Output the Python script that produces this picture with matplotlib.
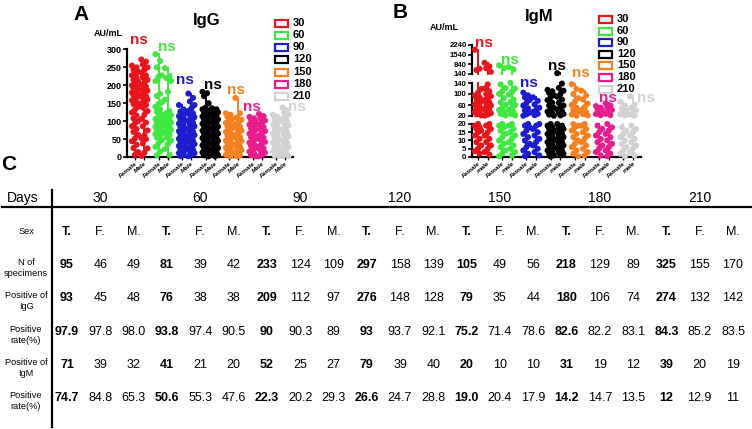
import matplotlib.pyplot as plt
import numpy as np
from matplotlib.lines import Line2D
from matplotlib.patches import Rectangle

plt.rcParams['font.family'] = ['Liberation Sans', 'DejaVu Sans']

W, H = 752, 429

# ---- data ----
days = [30, 60, 90, 120, 150, 180, 210]
colors = ['#e8161c', '#3ee83e', '#1c1cd0', '#000000', '#f5801f', '#e81c8c', '#d2d2d2']

# IgG (AU/mL), values
igg_female = [
    [255, 250, 244, 238, 234, 228, 222, 216, 212, 206, 200, 196, 192, 188, 184, 180, 176, 172, 168,
     163, 158, 153, 148, 140, 132, 124, 116, 108, 100, 94, 86, 78, 70, 62, 52, 44, 34, 25, 14, 6],
    [287, 268, 250, 228, 224, 212, 176, 170, 152, 148, 140, 133, 126, 118, 112, 106, 101, 96, 92, 88,
     84, 80, 76, 72, 68, 64, 60, 54, 47, 38, 28, 15, 5],
    [145, 133, 127, 122, 118, 114, 110, 105, 101, 97, 93, 88, 84, 80, 76, 72, 67, 63, 59, 55, 51, 47,
     43, 39, 35, 31, 27, 23, 19, 15, 11, 7, 3],
    [182, 178, 170, 150, 138, 133, 129, 125, 121, 117, 113, 109, 105, 101, 97, 93, 89, 85, 81, 77, 73,
     69, 65, 61, 57, 53, 49, 45, 41, 37, 33, 29, 25, 21, 17, 13, 9, 5, 2],
    [122, 118, 112, 106, 100, 95, 90, 85, 80, 75, 70, 65, 60, 55, 50, 46, 42, 38, 34, 30, 26, 22, 18,
     14, 10, 6, 2],
    [112, 108, 104, 100, 95, 90, 85, 80, 75, 70, 65, 60, 55, 50, 45, 40, 35, 30, 25, 20, 15, 10, 5, 2],
    [118, 112, 106, 100, 95, 90, 85, 80, 75, 70, 65, 60, 55, 50, 45, 40, 35, 30, 25, 20, 15, 10, 5, 2],
]
igg_male = [
    [272, 266, 258, 250, 244, 236, 228, 222, 215, 208, 202, 196, 190, 185, 180, 175, 170, 165, 160,
     155, 150, 145, 138, 128, 118, 106, 96, 86, 74, 60, 53, 50, 38, 24, 12, 3],
    [248, 226, 220, 212, 182, 160, 128, 122, 117, 112, 108, 104, 100, 96, 92, 88, 84, 80, 76, 72, 67,
     62, 55, 46, 36, 22, 6],
    [177, 165, 155, 145, 136, 128, 122, 116, 111, 106, 101, 96, 91, 86, 81, 76, 71, 66, 61, 56, 51, 46,
     41, 36, 31, 26, 21, 16, 11, 6, 2],
    [136, 133, 129, 125, 121, 117, 113, 109, 105, 101, 97, 93, 89, 85, 81, 77, 73, 69, 65, 61, 57, 53,
     49, 45, 41, 37, 33, 29, 25, 21, 17, 13, 9, 5, 2],
    [165, 122, 110, 104, 98, 92, 86, 80, 74, 68, 62, 56, 50, 45, 40, 35, 30, 25, 20, 15, 10, 5, 2],
    [120, 114, 108, 102, 96, 90, 84, 78, 72, 66, 60, 54, 48, 42, 36, 30, 24, 18, 12, 6, 2],
    [138, 130, 124, 118, 112, 106, 100, 94, 88, 82, 76, 70, 64, 58, 52, 46, 40, 34, 28, 22, 16, 10, 5, 2],
]

# IgM (AU/mL)
igm_female = [
    [1900, 520, 430, 118, 105, 95, 88, 80, 74, 68, 62, 56, 50, 45, 40, 35, 30, 26, 22, 20, 19, 18, 17,
     16, 15, 13, 11, 9, 7, 5, 3.5, 2],
    [760, 560, 135, 122, 110, 100, 85, 70, 60, 50, 42, 35, 28, 22, 20, 19, 18, 16, 14, 12, 10, 8, 6, 4,
     2, 0.5],
    [105, 95, 88, 78, 68, 58, 48, 40, 32, 26, 21, 20, 19, 18, 16, 14, 12, 10, 8, 6, 4, 2, 0.5],
    [115, 110, 104, 96, 88, 78, 68, 58, 50, 42, 36, 30, 25, 21, 20, 19, 18, 17, 16, 15, 14, 13, 12, 11,
     10, 9, 8, 7, 6, 5, 4, 3, 2, 1, 0.3],
    [136, 118, 100, 85, 72, 60, 50, 42, 36, 30, 25, 21, 20, 19, 18, 16, 14, 12, 10, 8, 6, 4, 2, 0.5],
    [56, 50, 44, 38, 32, 27, 23, 19, 17, 15, 13, 11, 9, 7, 5, 3, 1],
    [72, 58, 48, 40, 32, 26, 22, 18, 16, 14, 12, 10, 8, 6, 4, 2, 0.5],
]
igm_male = [
    [950, 700, 560, 300, 135, 120, 110, 100, 92, 85, 78, 70, 64, 58, 52, 46, 40, 35, 30, 25, 21, 20, 19,
     17, 15, 13, 11, 9, 7, 5, 3, 1.5],
    [640, 470, 140, 120, 108, 98, 80, 70, 60, 50, 42, 35, 28, 22, 20, 19, 17, 15, 13, 11, 9, 7, 5, 3, 1],
    [88, 75, 62, 50, 42, 35, 28, 23, 20, 19, 17, 15, 13, 11, 9, 7, 5, 3, 1],
    [200, 138, 122, 112, 100, 90, 80, 68, 58, 50, 44, 38, 32, 27, 22, 20, 19, 18, 17, 16, 15, 14, 13, 12,
     11, 10, 9, 8, 7, 6, 5, 4, 3, 2, 1],
    [112, 95, 80, 65, 52, 42, 34, 27, 22, 20, 19, 17, 15, 13, 11, 9, 7, 5, 3, 1],
    [66, 58, 50, 42, 35, 28, 23, 20, 18, 16, 14, 12, 10, 8, 6, 4, 2, 0.5],
    [92, 62, 50, 40, 32, 25, 21, 19, 17, 15, 13, 11, 9, 7, 5, 3, 1],
]

# table C
sex_labels = ['T.', 'F.', 'M.'] * 7
n_specimens = ['95', '46', '49', '81', '39', '42', '233', '124', '109', '297', '158', '139',
               '105', '49', '56', '218', '129', '89', '325', '155', '170']
positive_igg = ['93', '45', '48', '76', '38', '38', '209', '112', '97', '276', '148', '128',
                '79', '35', '44', '180', '106', '74', '274', '132', '142']
rate_igg = ['97.9', '97.8', '98.0', '93.8', '97.4', '90.5', '90', '90.3', '89', '93', '93.7', '92.1',
            '75.2', '71.4', '78.6', '82.6', '82.2', '83.1', '84.3', '85.2', '83.5']
positive_igm = ['71', '39', '32', '41', '21', '20', '52', '25', '27', '79', '39', '40',
                '20', '10', '10', '31', '19', '12', '39', '20', '19']
rate_igm = ['74.7', '84.8', '65.3', '50.6', '55.3', '47.6', '22.3', '20.2', '29.3', '26.6', '24.7', '28.8',
            '19.0', '20.4', '17.9', '14.2', '14.7', '13.5', '12', '12.9', '11']
row_labels = ['Sex', 'N of\nspecimens', 'Positive of\nIgG', 'Positive\nrate(%)',
              'Positive of\nIgM', 'Positive\nrate(%)']

fig = plt.figure(figsize=(W / 100, H / 100), dpi=100)


def px_axes(x0, ytop, x1, ybot):
    return fig.add_axes([x0 / W, 1 - ybot / H, (x1 - x0) / W, (ybot - ytop) / H])


def ptext(x, y, s, **kw):
    kw.setdefault('ha', 'center')
    kw.setdefault('va', 'center')
    fig.text(x / W, 1 - y / H, s, **kw)


def jitter(n):
    return np.array([((k * 3) % 5 - 2) * 0.065 for k in range(n)])


def dot_column(ax, x, vals, color, lo=None, hi=None):
    vals = np.asarray(vals, dtype=float)
    vmin, vmax = vals.min(), vals.max()
    offs = jitter(len(vals))
    if lo is not None:
        keep = (vals > lo) & (vals <= hi) if lo > 0 else (vals <= hi)
        offs, vals = offs[keep], vals[keep]
        a, b = max(vmin, lo), min(vmax, hi)
    else:
        a, b = vmin, vmax
    if b > a:
        ax.plot([x, x], [a, b], color=color, lw=1.4, zorder=2, clip_on=False)
    if len(vals):
        ax.scatter(x + offs, vals, s=19, color=color, edgecolors='none', zorder=3, clip_on=False)


def style_left(ax, fs):
    for side in ['top', 'right']:
        ax.spines[side].set_visible(False)
    ax.spines['left'].set_linewidth(1.6)
    ax.tick_params(axis='y', length=3, width=1.2, labelsize=fs, pad=1)
    for lab in ax.get_yticklabels():
        lab.set_fontweight('bold')


def sex_ticks(ax, labels):
    pos = [i + d for i in range(7) for d in (0, 0.4)]
    ax.set_xticks(pos)
    ax.set_xticklabels(labels * 7, rotation=40, ha='right', rotation_mode='anchor',
                       fontsize=4.6, fontweight='bold', fontstyle='italic')
    ax.tick_params(axis='x', length=2, width=1, pad=1)
    ax.spines['bottom'].set_linewidth(1.6)


# ---- panel A : IgG ----
axA = px_axes(127, 49.5, 293, 157)
for i in range(7):
    dot_column(axA, i, igg_female[i], colors[i])
    dot_column(axA, i + 0.4, igg_male[i], colors[i])
axA.set_ylim(0, 300)
axA.set_xlim(-0.34, 6.72)
axA.set_yticks(range(0, 301, 50))
style_left(axA, 6.5)
sex_ticks(axA, ['Female', 'Male'])

ptext(81, 15, 'A', fontsize=15, fontweight='bold')
ptext(207, 20, 'IgG', fontsize=12, fontweight='bold')
ptext(108, 33, 'AU/mL', fontsize=6.5, fontweight='bold')

# ---- panel B : IgM, broken y axis ----
segments = [((0, 20), (124, 157), [0, 5, 10, 15, 20]),
            ((20, 140), (83, 116), [20, 60, 100, 140]),
            ((140, 2240), (45, 74), [140, 840, 1540, 2240])]
for (lo, hi), (ytop, ybot), ticks in segments:
    ax = px_axes(472, ytop, 641, ybot)
    for i in range(7):
        dot_column(ax, i, igm_female[i], colors[i], lo, hi)
        dot_column(ax, i + 0.4, igm_male[i], colors[i], lo, hi)
    ax.set_ylim(lo, hi)
    ax.set_xlim(-0.25, 6.73)
    ax.set_yticks(ticks)
    style_left(ax, 5.6)
    if lo == 0:
        sex_ticks(ax, ['Female', 'male'])
    else:
        ax.spines['bottom'].set_visible(False)
        ax.set_xticks([])

ptext(400, 12, 'B', fontsize=15, fontweight='bold')
ptext(539, 17, 'IgM', fontsize=12, fontweight='bold')
ptext(444, 27, 'AU/mL', fontsize=6.5, fontweight='bold')

# "ns" labels (pixel positions)
ns_A = [(139, 40), (167, 47), (185, 80), (213, 85), (236, 90), (252, 107), (297, 107)]
ns_B = [(484, 43), (510, 60), (529, 83), (557, 66), (581, 73), (608, 98), (646, 98)]
for (x, y), c in zip(ns_A + ns_B, colors + colors):
    ptext(x, y, 'ns', fontsize=11, fontweight='bold', color=c)

# legends
for x0, ys in [(275, [23, 35, 47, 59, 72, 84, 96]), (599, [19, 31, 42, 54, 65, 77, 89])]:
    for d, c, y in zip(days, colors, ys):
        fig.add_artist(Rectangle((x0 / W, 1 - (y + 3.5) / H), 13 / W, 7 / H, fill=False,
                                 edgecolor=c, lw=1.6, transform=fig.transFigure))
        ptext(x0 + 18, y, str(d), ha='left', fontsize=8, fontweight='bold')

# ---- panel C : table ----
ptext(9, 165, 'C', fontsize=15, fontweight='bold')
fig.add_artist(Line2D([2 / W, 1], [1 - 207 / H] * 2, color='black', lw=1.6,
                      transform=fig.transFigure))
fig.add_artist(Line2D([52 / W] * 2, [1 - 190 / H, 1 - 427 / H], color='black', lw=1.6,
                      transform=fig.transFigure))

col_x = [67 + 33.3 * k for k in range(21)]
ptext(23, 198, 'Days', fontsize=10)
for g, d in enumerate(days):
    ptext(col_x[3 * g + 1], 198, str(d), fontsize=10)

row_y = [232, 265, 298, 332, 365, 398]
rows = [sex_labels, n_specimens, positive_igg, rate_igg, positive_igm, rate_igm]
for y, lab, vals in zip(row_y, row_labels, rows):
    ptext(26, y + (3 if '\n' in lab else 0), lab, fontsize=6.6, linespacing=1.15)
    for k, v in enumerate(vals):
        ptext(col_x[k], y, v, fontsize=9, fontweight='bold' if k % 3 == 0 else 'normal')

fig.savefig('out.png', dpi=100)
